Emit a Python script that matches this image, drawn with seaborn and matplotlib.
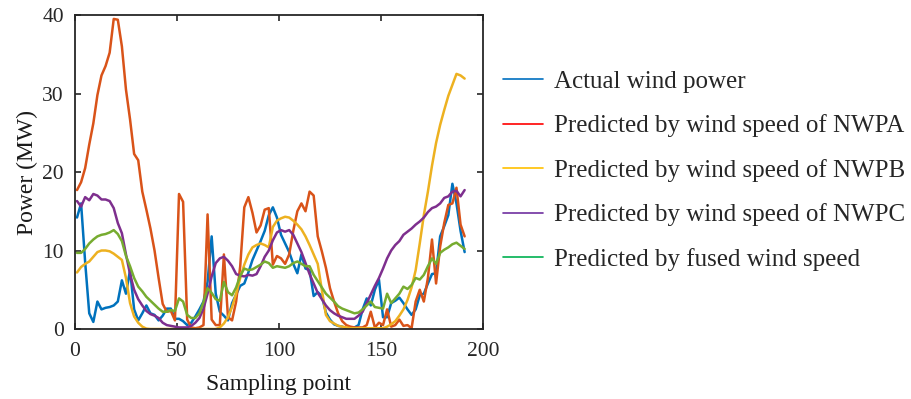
import numpy as np
import pandas as pd
import matplotlib
matplotlib.use("Agg")
import matplotlib.pyplot as plt
from matplotlib.lines import Line2D
import seaborn as sns

sampling_point = list(range(1, 192, 2))

actual = [14.2, 16.0, 8.5, 2.0, 0.9, 3.5, 2.5, 2.7, 2.8, 3.0,
          3.5, 6.2, 4.5, 7.5, 2.5, 1.1, 2.0, 3.0, 2.0, 1.8,
          1.1, 1.7, 2.6, 2.6, 1.3, 1.3, 1.0, 0.5, 0.8, 1.6,
          2.5, 3.5, 6.0, 11.8, 4.5, 2.2, 1.7, 1.1, 3.3, 4.4,
          5.5, 5.8, 7.2, 8.8, 10.0, 11.2, 12.5, 14.5, 15.5, 14.2,
          12.0, 10.9, 9.8, 8.3, 7.1, 9.5, 7.7, 7.5, 4.2, 4.7,
          4.2, 2.1, 1.2, 0.6, 0.4, 0.3, 0.1, 0.1, 0.2, 0.5,
          2.5, 3.9, 3.0, 5.0, 6.3, 1.5, 1.5, 3.3, 3.6, 4.0,
          3.3, 2.5, 1.8, 2.5, 4.3, 4.5, 5.8, 7.0, 7.1, 11.8,
          13.1, 14.5, 18.5, 16.0, 12.5, 9.8]

nwpa = [17.7, 18.7, 20.5, 23.5, 26.2, 29.8, 32.3, 33.5, 35.2, 39.5,
        39.4, 36.0, 30.5, 26.7, 22.3, 21.5, 17.5, 15.2, 12.8, 10.0,
        6.5, 3.2, 2.2, 2.3, 1.1, 17.2, 16.2, 1.2, 0.2, 0.1,
        0.2, 0.5, 14.6, 1.2, 0.5, 0.5, 9.5, 1.5, 1.1, 3.5,
        8.0, 15.5, 16.8, 14.8, 12.3, 13.2, 15.2, 15.4, 8.2, 9.3,
        9.0, 8.3, 9.5, 12.5, 15.0, 16.0, 15.0, 17.5, 17.0, 11.8,
        9.9, 7.8, 5.2, 3.5, 2.0, 1.0, 0.5, 0.3, 0.2, 0.2,
        0.2, 0.5, 2.2, 0.2, 0.8, 0.5, 2.5, 0.3, 0.5, 1.2,
        0.4, 0.5, 0.1, 3.5, 5.0, 3.5, 6.5, 11.4, 5.8, 10.5,
        13.5, 15.8, 16.0, 18.0, 13.3, 11.8]

nwpb = [7.2, 7.9, 8.3, 8.6, 9.2, 9.8, 10.0, 10.0, 9.9, 9.6,
        9.2, 8.8, 6.5, 3.3, 1.6, 0.8, 0.3, 0.05, 0.0, 0.0,
        0.0, 0.0, 0.0, 0.0, 0.0, 0.0, 0.0, 0.0, 0.0, 0.0,
        0.0, 0.0, 0.0, 0.0, 0.0, 0.2, 0.7, 1.5, 2.8, 4.5,
        6.5, 8.2, 9.5, 10.4, 10.7, 10.9, 10.7, 10.4, 13.0, 13.8,
        14.1, 14.3, 14.2, 13.8, 13.3, 12.7, 11.8, 10.7, 9.5, 8.3,
        5.0, 1.8, 1.0, 0.7, 0.4, 0.3, 0.2, 0.1, 0.1, 0.1,
        0.1, 0.1, 0.1, 0.1, 0.1, 0.1, 0.3, 0.6, 1.0, 1.7,
        2.5, 3.7, 5.3, 7.5, 10.9, 14.5, 17.5, 20.8, 23.7, 26.0,
        27.9, 29.7, 31.1, 32.5, 32.3, 31.9]

nwpc = [16.3, 15.6, 16.8, 16.4, 17.2, 17.0, 16.5, 16.5, 16.3, 15.4,
        13.5, 12.2, 9.5, 7.0, 5.0, 3.8, 3.0, 2.3, 1.9, 1.7,
        1.4, 0.8, 0.5, 0.4, 0.3, 0.2, 0.2, 0.2, 0.4, 0.8,
        1.4, 2.6, 4.5, 6.7, 8.4, 9.0, 9.2, 8.7, 8.0, 7.0,
        6.8, 6.7, 6.9, 6.8, 7.0, 8.0, 9.2, 10.0, 11.3, 12.3,
        12.6, 12.4, 12.6, 12.0, 10.9, 9.8, 8.4, 7.0, 5.8, 4.6,
        3.8, 3.0, 2.4, 2.0, 1.7, 1.5, 1.3, 1.3, 1.3, 1.7,
        2.2, 3.3, 4.4, 5.5, 6.5, 7.7, 9.0, 10.0, 10.7, 11.2,
        12.0, 12.4, 12.8, 13.3, 13.7, 14.2, 14.9, 15.4, 15.6, 16.0,
        16.7, 16.9, 17.5, 17.6, 16.9, 17.7]

fused = [9.7, 9.7, 10.2, 10.9, 11.4, 11.8, 12.0, 12.1, 12.3, 12.6,
         12.1, 11.2, 9.3, 8.0, 6.5, 5.4, 4.8, 4.1, 3.6, 3.1,
         2.6, 2.2, 2.2, 2.4, 2.3, 3.9, 3.5, 1.8, 1.4, 1.4,
         2.0, 3.4, 5.2, 4.6, 3.8, 3.6, 6.0, 4.7, 4.3, 5.3,
         6.8, 7.7, 7.5, 7.6, 7.9, 8.2, 8.6, 8.4, 7.8, 8.0,
         7.9, 7.8, 8.0, 8.4, 8.6, 8.3, 8.0, 8.0, 6.9, 6.1,
         5.3, 4.5, 4.0, 3.5, 2.9, 2.6, 2.4, 2.2, 2.0, 2.1,
         2.5, 3.0, 3.5, 2.8, 2.7, 2.6, 4.5, 3.3, 3.9, 4.5,
         5.4, 5.1, 5.6, 6.5, 6.3, 6.9, 8.0, 9.0, 8.3, 9.7,
         10.1, 10.4, 10.8, 11.0, 10.6, 10.2]

series_names = ["Actual wind power",
                "Predicted by wind speed of NWPA",
                "Predicted by wind speed of NWPB",
                "Predicted by wind speed of NWPC",
                "Predicted by fused wind speed"]
line_colors = ["#0072BD", "#D95319", "#EDB120", "#7E2F8E", "#77AC30"]
legend_colors = ["#0070C0", "#FF0000", "#FFC000", "#7030A0", "#00B050"]

frames = []
for name, vals in zip(series_names, [actual, nwpa, nwpb, nwpc, fused]):
    frames.append(pd.DataFrame({"x": sampling_point, "y": vals, "series": name}))
df = pd.concat(frames, ignore_index=True)

sns.set_style("ticks")
plt.rcParams["font.family"] = ["Liberation Serif", "DejaVu Serif"]

fig = plt.figure(figsize=(9.12, 3.99), dpi=100)
ax = fig.add_axes([0.0822, 0.1754, 0.4474, 0.787])

sns.lineplot(data=df, x="x", y="y", hue="series", hue_order=series_names,
             palette=dict(zip(series_names, line_colors)), linewidth=1.8,
             legend=False, errorbar=None, estimator=None, ax=ax)

ax.set_xlim(0, 200)
ax.set_ylim(0, 40)
ax.set_xticks([0, 50, 100, 150, 200])
ax.set_yticks([0, 10, 20, 30, 40])
ax.tick_params(direction="in", length=4, width=1.2, top=True, right=True,
               labelsize=15.5, colors="#262626")
ax.tick_params(axis="x", pad=9)
ax.tick_params(axis="y", pad=8)
for s in ax.spines.values():
    s.set_linewidth(1.3)
    s.set_color("#262626")
    s.set_visible(True)
ax.set_xlabel("Sampling point", fontsize=17, labelpad=10, color="#1a1a1a")
ax.set_ylabel("Power (MW)", fontsize=17, labelpad=3, color="#1a1a1a")

handles = [Line2D([0], [0], color=c, lw=1.2) for c in legend_colors]
fig.legend(handles, series_names, loc="center left",
           bbox_to_anchor=(0.527, 0.5725), frameon=False, fontsize=18,
           handlelength=1.6, handletextpad=0.45, labelspacing=0.86)

fig.savefig("out.png", dpi=100)
